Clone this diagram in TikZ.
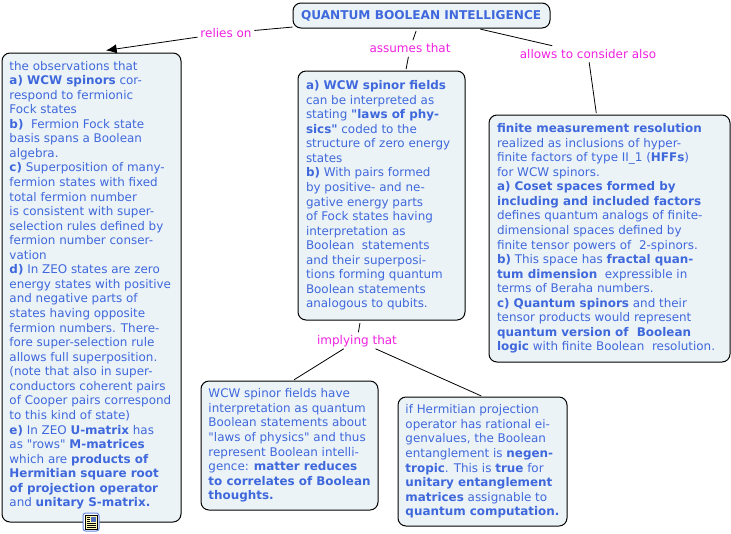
\documentclass[tikz,border=0pt]{standalone}
\usepackage{fontspec}
\setmainfont[Ligatures=TeXOff]{DejaVu Sans}
\usepackage{xcolor}
\usetikzlibrary{arrows.meta,positioning,calc}
\definecolor{boxfill}{HTML}{EBF3F7}
\definecolor{boxtext}{HTML}{3F68DC}
\definecolor{linkpink}{HTML}{F020E0}
\tikzset{
	conceptbox/.style={draw=black,line width=0.75pt,rounded corners=6pt,fill=boxfill,text=boxtext,anchor=north west,align=left,
		font=\fontsize{8.95pt}{10.92pt}\selectfont,inner xsep=0pt,inner ysep=0pt},
	linkword/.style={text=linkpink,font=\fontsize{9pt}{11pt}\selectfont,inner xsep=2pt,inner ysep=0pt,text height=7pt,text depth=1pt,minimum height=12pt},
	linkline/.style={draw=black,line width=0.6pt}
}
\newcommand{\boxbody}[3]{\parbox[c][0.75\dimexpr#2pt\relax][c]{0.75\dimexpr#1pt\relax}{\raggedright\leftskip=6pt\rightskip=0pt plus 1fil #3}}
\begin{document}
\begin{tikzpicture}[x=0.75pt,y=-0.75pt]
	\useasboundingbox (0,0) rectangle (731,533);
	
	% boxes
	\node[conceptbox,font=\fontsize{9.1pt}{11pt}\selectfont] (title) at (292.5,2.5) {\boxbody{257}{25}{\textbf{QUANTUM BOOLEAN INTELLIGENCE}}};
	\node[conceptbox] (obs) at (1.5,52.5) {\boxbody{179}{469}{\leftskip=5.6pt the observations that\\
		\textbf{a) WCW spinors} cor-\\
		respond to fermionic\\
		Fock states\\
		\textbf{b)}\ \ Fermion Fock state\\
		basis spans a Boolean\\
		algebra.\\
		\textbf{c)} Superposition of many-\\
		fermion states with fixed\\
		total fermion number\\
		is consistent with super-\\
		selection rules defined by\\
		fermion number conser-\\
		vation\\
		\textbf{d)} In ZEO states are zero\\
		energy states with positive\\
		and negative parts of\\
		states having opposite\\
		fermion numbers. There-\\
		fore super-selection rule\\
		allows full superposition.\\
		(note that also in super-\\
		conductors coherent pairs\\
		of Cooper pairs correspond\\
		to this kind of state)\\
		\textbf{e)} In ZEO \textbf{U-matrix} has\\
		as "rows" \textbf{M-matrices}\\
		which are \textbf{products of}\\
		\textbf{Hermitian square root}\\
		\textbf{of projection operator}\\
		and \textbf{unitary S-matrix.}\par\vspace{3.5pt}}};
	\node[conceptbox] (fields) at (297.5,70.5) {\boxbody{167}{249}{\textbf{a) WCW spinor fields}\\
		can be interpreted as\\
		stating \textbf{"laws of phy-}\\
		\textbf{sics"} coded to the\\
		structure of zero energy\\
		states\\
		\textbf{b)} With pairs formed\\
		by positive- and ne-\\
		gative energy parts\\
		of Fock states having\\
		interpretation as\\
		Boolean\ \ statements\\
		and their superposi-\\
		tions forming quantum\\
		Boolean statements\\
		analogous to qubits.}};
	\node[conceptbox] (finite) at (488.5,114.5) {\boxbody{241}{247}{\textbf{finite measurement resolution}\\
		realized as inclusions of hyper-\\
		finite factors of type II\_1 (\textbf{HFFs})\\
		for WCW spinors.\\
		\textbf{a) Coset spaces formed by}\\
		\textbf{including and included factors}\\
		defines quantum analogs of finite-\\
		dimensional spaces defined by\\
		finite tensor powers of\ \ 2-spinors.\\
		\textbf{b)} This space has \textbf{fractal quan-}\\
		\textbf{tum dimension}\ \ expressible in\\
		terms of Beraha numbers.\\
		\textbf{c) Quantum spinors} and their\\
		tensor products would represent\\
		\textbf{quantum version of\ \ Boolean}\\
		\textbf{logic} with finite Boolean\ \ resolution.}};
	\node[conceptbox] (matter) at (200.5,380.5) {\boxbody{177}{129}{\leftskip=5.6pt WCW spinor fields have\\
		interpretation as quantum\\
		Boolean statements about\\
		"laws of physics" and thus\\
		represent Boolean intelli-\\
		gence: \textbf{matter reduces}\\
		\textbf{to correlates of Boolean}\\
		\textbf{thoughts.}}};
	\node[conceptbox] (entangle) at (397.5,396.5) {\boxbody{169}{129}{\leftskip=5.6pt if Hermitian projection\\
		operator has rational ei-\\
		genvalues, the Boolean\\
		entanglement is \textbf{negen-}\\
		\textbf{tropic}. This is \textbf{true} for\\
		\textbf{unitary entanglement}\\
		\textbf{matrices} assignable to\\
		\textbf{quantum computation.}}};
	
	% linking words
	\node[linkword] (relies) at (226,33) {relies on};
	\node[linkword] (assumes) at (410,48.5) {assumes that};
	\node[linkword] (allows) at (588,54) {allows to consider also};
	\node[linkword] (implying) at (357,340.5) {implying that};
	
	% connectors
	\draw[linkline] (title) -- (relies);
	\draw[linkline,shorten >=11pt,-{Latex[length=8pt,width=7pt]}] (relies) -- (obs.north);
	\draw[linkline,shorten <=2pt] (title) -- (assumes);
	\draw[linkline,shorten >=1pt] (assumes) -- (fields.79);
	\draw[linkline,shorten <=2pt] (title) -- (allows);
	\draw[linkline,shorten >=1pt] (allows) -- (finite.96);
	\draw[linkline,shorten <=2pt] (fields) -- (implying);
	\draw[linkline,shorten >=1pt] (implying) -- (matter.87);
	\draw[linkline,shorten >=1pt] (implying) -- (entangle.north);
	
	% note icon
	\node[draw=boxtext!80,line width=0.75pt,rounded corners=2pt,fill=white,minimum width=12pt,minimum height=13.5pt,inner sep=0pt] (icon) at (91,522) {};
	\filldraw[fill=yellow!30,draw=black,line width=0.5pt] ($(icon.center)+(-6,-7)$) rectangle ($(icon.center)+(6,7)$);
	\fill[boxtext!70!gray] ($(icon.center)+(0,-5.5)$) rectangle ($(icon.center)+(4.5,0)$);
	\foreach \ypos in {1.5,3.5,5.5}
		\draw[black,line width=0.5pt] ($(icon.center)+(-4.5,\ypos)$) -- ($(icon.center)+(4.5,\ypos)$);
	\foreach \ypos in {-5,-3,-1}
		\draw[black,line width=0.5pt] ($(icon.center)+(-4.5,\ypos)$) -- ($(icon.center)+(-1,\ypos)$);
\end{tikzpicture}
\end{document}
